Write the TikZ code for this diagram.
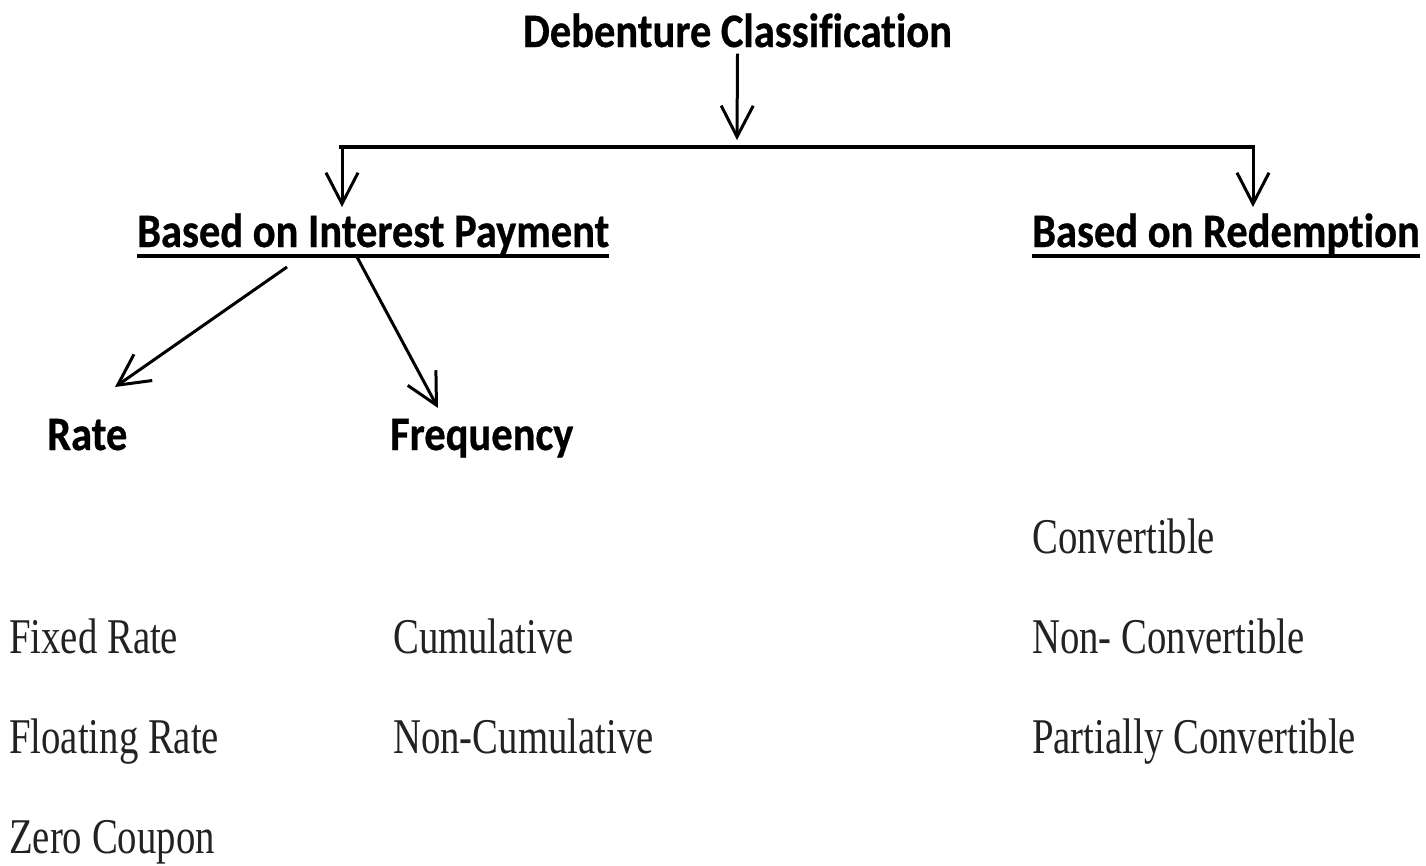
\documentclass[tikz,border=0pt]{standalone}
\usepackage{fontspec}
\setmainfont{Liberation Serif}[FakeStretch=0.775]
\newfontfamily\headfont{Carlito}[Ligatures=NoCommon, FakeStretch=0.885,
  BoldFeatures={FakeBold=0.6}]
\usetikzlibrary{arrows.meta}
\definecolor{itemgray}{RGB}{34,34,34}

\begin{document}
\begin{tikzpicture}[x=1pt,y=-1pt,
  head/.style={font=\headfont\bfseries\fontsize{48}{54}\selectfont,
    inner sep=0pt, anchor=base west},
  item/.style={font=\fontsize{50}{56}\selectfont, text=itemgray,
    inner sep=0pt, anchor=base west},
  link/.style={line width=3pt},
  bar/.style={line width=3.5pt},
  uline/.style={line width=4pt},
  tip/.style={-{Straight Barb[length=31pt,width=32pt]}}]
\useasboundingbox (0,0) rectangle (1426,865);

% headings
\node[head, anchor=base] (title) at (737.5,47) {Debenture Classification};
\node[head] (interest)   at (137,247)  {Based on Interest Payment};
\node[head] (redemption) at (1032,247) {Based on Redemption};
\node[head] (rate)       at (47,450)   {Rate};
\node[head] (freq)       at (390,450)  {Frequency};

% underlines of the two branch headings
\draw[uline] ([yshift=-9pt]interest.base west) -- ([yshift=-9pt]interest.base east);
\draw[uline] ([yshift=-9pt]redemption.base west) -- ([yshift=-9pt]redemption.base east);

% plain items
\node[item] (fixed)    at (9,653)    {Fixed Rate};
\node[item] (floating) at (9,753)    {Floating Rate};
\node[item] (zero)     at (9,853)    {Zero Coupon};
\node[item] (cum)      at (393,653)  {Cumulative};
\node[item] (noncum)   at (393,753)  {Non-Cumulative};
\node[item] (conv)     at (1032,553) {Convertible};
\node[item] (nonconv)  at (1032,653) {Non- Convertible};
\node[item] (partconv) at (1032,753) {Partially Convertible};

% connector points
\coordinate (hub)  at (737,147);
\coordinate (barL) at (342,147);
\coordinate (barR) at (1253,147);
\coordinate (rateFrom) at (287,267);
\coordinate (rateTo)   at (115,387);
\coordinate (freqFrom) at (357,257);
\coordinate (freqTo)   at (438,408);

% connectors
\draw[link,tip] ([yshift=-6pt]title.south) -- ([yshift=7pt]hub);
\draw[bar] ([xshift=-3pt]barL) -- ([xshift=1.5pt]barR);
\draw[link,tip] (barL) -- ++(0,60);
\draw[link,tip] (barR) -- ++(0,60);
\draw[link,tip] (rateFrom) -- (rateTo);
\draw[link,tip] (freqFrom) -- (freqTo);
\end{tikzpicture}
\end{document}
